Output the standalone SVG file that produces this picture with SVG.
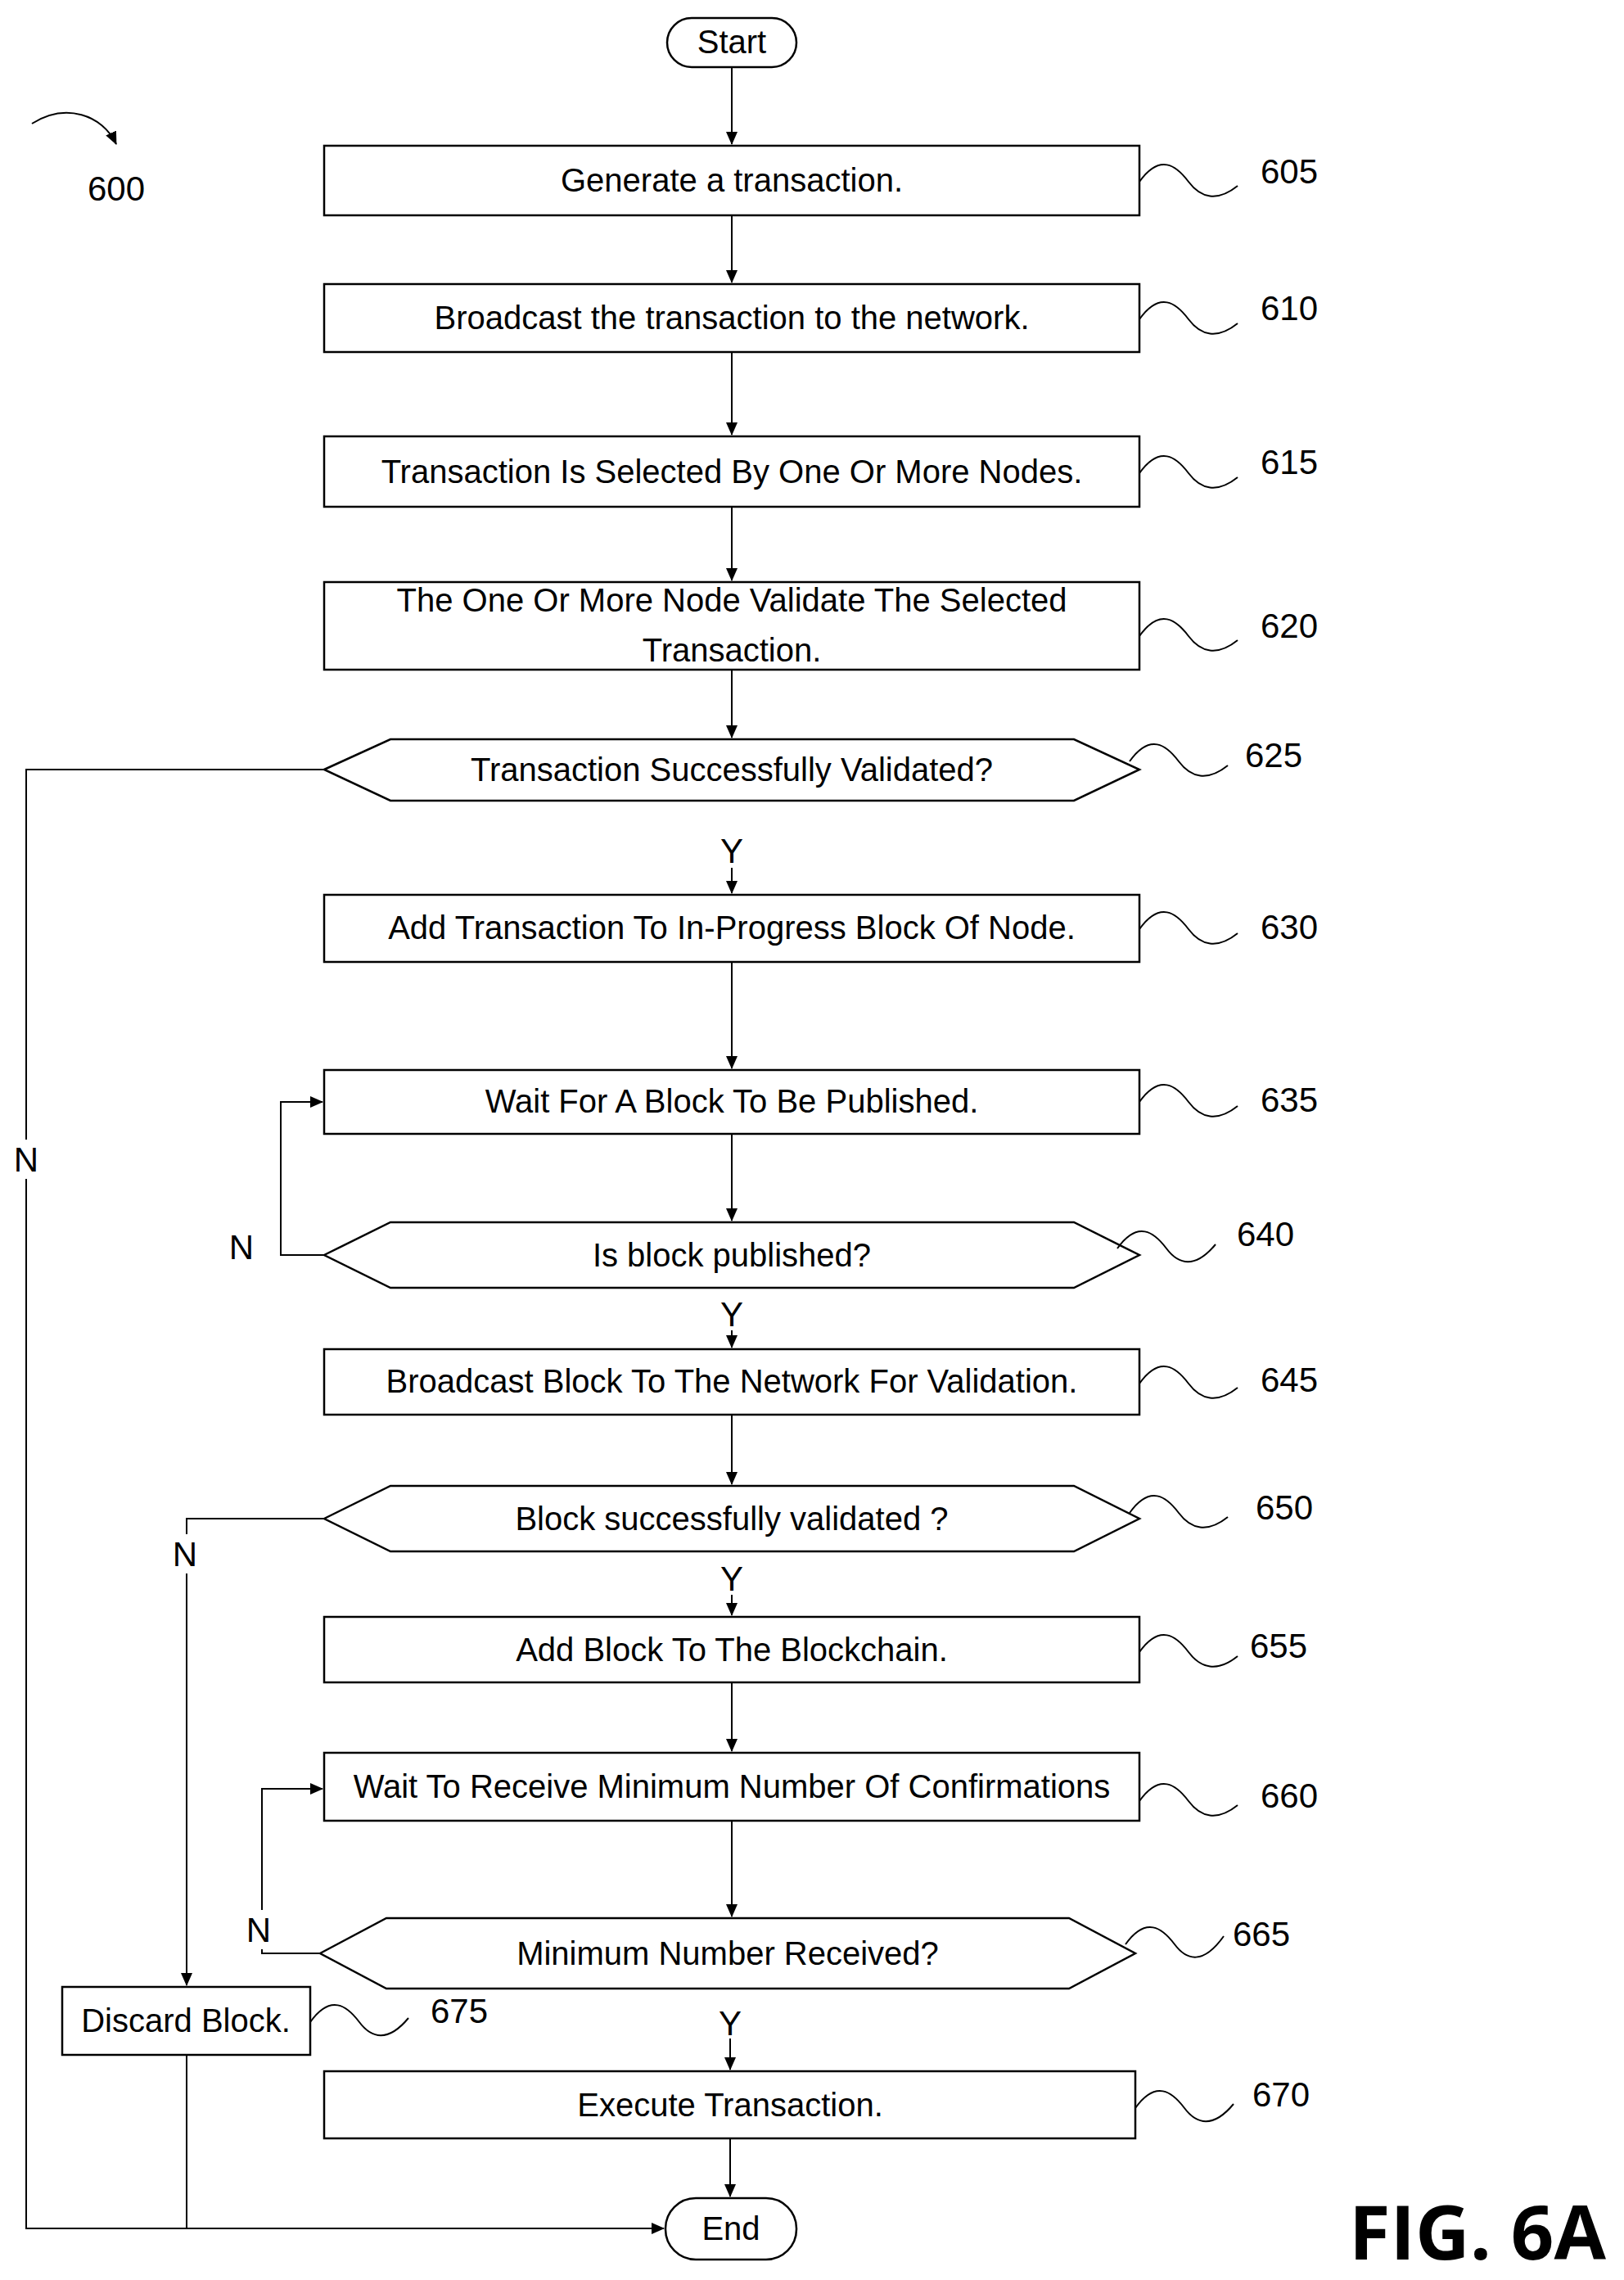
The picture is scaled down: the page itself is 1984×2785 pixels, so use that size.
<svg xmlns="http://www.w3.org/2000/svg" width="1984" height="2785" viewBox="0 0 1984 2785">
<style>
.b{fill:#fff;stroke:#000;stroke-width:2.5}
.t{font-family:"Liberation Sans",Arial,sans-serif;font-size:40px;text-anchor:middle;fill:#000}
.n{font-family:"Liberation Sans",Arial,sans-serif;font-size:42px;fill:#000}
.c{fill:none;stroke:#000;stroke-width:2}
.w{fill:none;stroke:#000;stroke-width:2}
.bg{fill:#fff}
</style>
<defs><marker id="a" markerWidth="16" markerHeight="14" refX="15" refY="7" orient="auto" markerUnits="userSpaceOnUse"><path d="M0,0 L16,7 L0,14 z" fill="#000"/></marker></defs>
<rect width="1984" height="2785" fill="#fff"/>
<g id="connectors">
<line class="c" x1="894" y1="82" x2="894" y2="176" marker-end="url(#a)"/>
<line class="c" x1="894" y1="263" x2="894" y2="345" marker-end="url(#a)"/>
<line class="c" x1="894" y1="430" x2="894" y2="531" marker-end="url(#a)"/>
<line class="c" x1="894" y1="619" x2="894" y2="709" marker-end="url(#a)"/>
<line class="c" x1="894" y1="818" x2="894" y2="901" marker-end="url(#a)"/>
<line class="c" x1="894" y1="1060" x2="894" y2="1091" marker-end="url(#a)"/>
<line class="c" x1="894" y1="1175" x2="894" y2="1305" marker-end="url(#a)"/>
<line class="c" x1="894" y1="1385" x2="894" y2="1491" marker-end="url(#a)"/>
<line class="c" x1="894" y1="1625" x2="894" y2="1646" marker-end="url(#a)"/>
<line class="c" x1="894" y1="1728" x2="894" y2="1813" marker-end="url(#a)"/>
<line class="c" x1="894" y1="1948" x2="894" y2="1973" marker-end="url(#a)"/>
<line class="c" x1="894" y1="2055" x2="894" y2="2139" marker-end="url(#a)"/>
<line class="c" x1="894" y1="2224" x2="894" y2="2341" marker-end="url(#a)"/>
<line class="c" x1="892" y1="2490" x2="892" y2="2528" marker-end="url(#a)"/>
<line class="c" x1="892" y1="2612" x2="892" y2="2683" marker-end="url(#a)"/>
<polyline class="c" points="396,940 32,940 32,2722 811,2722" marker-end="url(#a)"/>
<polyline class="c" points="396,1533 343,1533 343,1346 394,1346" marker-end="url(#a)"/>
<polyline class="c" points="396,1855 228,1855 228,2425" marker-end="url(#a)"/>
<line class="c" x1="228" y1="2510" x2="228" y2="2722"/>
<polyline class="c" points="391,2386 320,2386 320,2185 394,2185" marker-end="url(#a)"/>
<path class="c" d="M39,151 C80,125 125,140 142,176" marker-end="url(#a)"/>
<rect class="bg" x="14" y="1392" width="36" height="48"/>
<rect class="bg" x="208" y="1874" width="36" height="48"/>
<rect class="bg" x="298" y="2333" width="36" height="48"/>
<rect class="bg" x="277" y="1500" width="36" height="30"/>
<text class="n" x="894" y="1054" text-anchor="middle">Y</text>
<text class="n" x="894" y="1620" text-anchor="middle">Y</text>
<text class="n" x="894" y="1943" text-anchor="middle">Y</text>
<text class="n" x="892" y="2486" text-anchor="middle">Y</text>
<text class="n" x="32" y="1431" text-anchor="middle">N</text>
<text class="n" x="295" y="1538" text-anchor="middle">N</text>
<text class="n" x="226" y="1913" text-anchor="middle">N</text>
<text class="n" x="316" y="2372" text-anchor="middle">N</text>
</g>
<g id="start"><rect class="b" x="815" y="22" width="158" height="60" rx="30"/><text class="t" x="894" y="65">Start</text></g>
<g id="n605"><rect class="b" x="396" y="178" width="996" height="85"/><text class="t" x="894" y="234">Generate a transaction.</text><path class="w" d="M1392,222 c25,-35 45,-20 60,0 s35,25 60,5"/><text class="n" x="1540" y="224">605</text></g>
<g id="n610"><rect class="b" x="396" y="347" width="996" height="83"/><text class="t" x="894" y="402">Broadcast the transaction to the network.</text><path class="w" d="M1392,390 c25,-35 45,-20 60,0 s35,25 60,5"/><text class="n" x="1540" y="391">610</text></g>
<g id="n615"><rect class="b" x="396" y="533" width="996" height="86"/><text class="t" x="894" y="590">Transaction Is Selected By One Or More Nodes.</text><path class="w" d="M1392,578 c25,-35 45,-20 60,0 s35,25 60,5"/><text class="n" x="1540" y="579">615</text></g>
<g id="n620"><rect class="b" x="396" y="711" width="996" height="107"/><text class="t" x="894" y="747">The One Or More Node Validate The Selected</text><text class="t" x="894" y="808">Transaction.</text><path class="w" d="M1392,777 c25,-35 45,-20 60,0 s35,25 60,5"/><text class="n" x="1540" y="779">620</text></g>
<g id="n625"><polygon class="b" points="396,940 477,903 1312,903 1392,940 1312,978 477,978"/><text class="t" x="894" y="954">Transaction Successfully Validated?</text><path class="w" d="M1380,930 c25,-35 45,-20 60,0 s35,25 60,5"/><text class="n" x="1521" y="937">625</text></g>
<g id="n630"><rect class="b" x="396" y="1093" width="996" height="82"/><text class="t" x="894" y="1147">Add Transaction To In-Progress Block Of Node.</text><path class="w" d="M1392,1135 c25,-35 45,-20 60,0 s35,25 60,5"/><text class="n" x="1540" y="1147">630</text></g>
<g id="n635"><rect class="b" x="396" y="1307" width="996" height="78"/><text class="t" x="894" y="1359">Wait For A Block To Be Published.</text><path class="w" d="M1392,1346 c25,-35 45,-20 60,0 s35,25 60,5"/><text class="n" x="1540" y="1358">635</text></g>
<g id="n640"><polygon class="b" points="396,1533 477,1493 1312,1493 1392,1533 1312,1573 477,1573"/><text class="t" x="894" y="1547">Is block published?</text><path class="w" d="M1365,1525 c25,-35 45,-20 60,0 s35,25 60,-5"/><text class="n" x="1511" y="1522">640</text></g>
<g id="n645"><rect class="b" x="396" y="1648" width="996" height="80"/><text class="t" x="894" y="1701">Broadcast Block To The Network For Validation.</text><path class="w" d="M1392,1690 c25,-35 45,-20 60,0 s35,25 60,5"/><text class="n" x="1540" y="1700">645</text></g>
<g id="n650"><polygon class="b" points="396,1855 477,1815 1312,1815 1392,1855 1312,1895 477,1895"/><text class="t" x="894" y="1869">Block successfully validated ?</text><path class="w" d="M1380,1848 c25,-35 45,-20 60,0 s35,25 60,5"/><text class="n" x="1534" y="1856">650</text></g>
<g id="n655"><rect class="b" x="396" y="1975" width="996" height="80"/><text class="t" x="894" y="2029">Add Block To The Blockchain.</text><path class="w" d="M1392,2018 c25,-35 45,-20 60,0 s35,25 60,5"/><text class="n" x="1527" y="2025">655</text></g>
<g id="n660"><rect class="b" x="396" y="2141" width="996" height="83"/><text class="t" x="894" y="2196">Wait To Receive Minimum Number Of Confirmations</text><path class="w" d="M1392,2200 c25,-35 45,-20 60,0 s35,25 60,5"/><text class="n" x="1540" y="2208">660</text></g>
<g id="n665"><polygon class="b" points="391,2386 472,2343 1306,2343 1387,2386 1306,2429 472,2429"/><text class="t" x="889" y="2400">Minimum Number Received?</text><path class="w" d="M1375,2375 c25,-35 45,-20 60,0 s35,25 60,-10"/><text class="n" x="1506" y="2377">665</text></g>
<g id="n670"><rect class="b" x="396" y="2530" width="991" height="82"/><text class="t" x="892" y="2585">Execute Transaction.</text><path class="w" d="M1387,2575 c25,-35 45,-20 60,0 s35,25 60,-5"/><text class="n" x="1530" y="2573">670</text></g>
<g id="n675"><rect class="b" x="76" y="2427" width="303" height="83"/><text class="t" x="227" y="2482">Discard Block.</text><path class="w" d="M379,2470 c25,-35 45,-20 60,0 s35,25 60,-5"/><text class="n" x="526" y="2471">675</text></g>
<g id="end"><rect class="b" x="813" y="2685" width="160" height="75" rx="37"/><text class="t" x="893" y="2736">End</text></g>
<g id="label600"><text class="n" x="142" y="245" text-anchor="middle">600</text></g>
<text x="1805" y="2760" text-anchor="middle" style="font-family:'Open Sans','Liberation Sans',sans-serif;font-size:92px;font-weight:bold">FIG. 6A</text>
</svg>
